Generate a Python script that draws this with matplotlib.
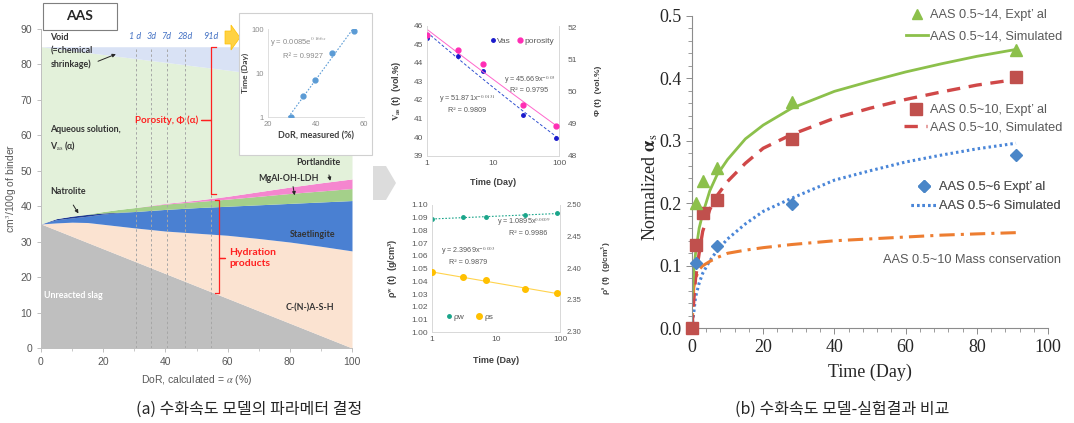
import numpy as np
import matplotlib
matplotlib.use('Agg')
import matplotlib.pyplot as plt
from matplotlib.patches import Rectangle, Polygon
from matplotlib.lines import Line2D
from matplotlib.ticker import MultipleLocator, NullLocator

plt.rcParams['font.family'] = ['Liberation Sans', 'DejaVu Sans']
plt.rcParams['mathtext.fontset'] = 'stix'

# ---------------- data ----------------
# (a) phase assemblage vs calculated DoR (boundary tops, cm3/100 g binder)
dor = [0, 5, 10, 15, 20, 25, 30, 40, 50, 60, 70, 80, 90, 100]
slag_top = [35, 33.25, 31.5, 29.75, 28, 26.25, 24.5, 21, 17.5, 14, 10.5, 7, 3.5, 0]
cash_top = [35, 35.3, 35.5, 35.4, 34.9, 34.4, 33.9, 33.0, 32.4, 31.8, 30.9, 29.9, 28.7, 27.4]
staet_top = [35, 36.2, 36.7, 37.2, 37.8, 38.2, 38.5, 39.1, 39.6, 40.0, 40.4, 40.8, 41.2, 41.6]
natro_top = [35, 36.5, 37.2, 37.7, 38.1, 38.3, 38.5, 39.1, 39.6, 40.0, 40.4, 40.8, 41.2, 41.6]
ldh_top = [35, 36.5, 37.2, 37.8, 38.5, 39.1, 39.6, 40.6, 41.3, 42.0, 42.8, 43.6, 44.3, 45.0]
port_top = [35, 36.5, 37.2, 37.8, 38.5, 39.1, 39.6, 40.8, 41.7, 42.8, 44.1, 45.4, 46.6, 47.7]
aq_top = [85, 84.45, 83.9, 83.35, 82.8, 82.25, 81.7, 80.6, 79.5, 78.4, 77.3, 76.2, 75.1, 74.0]
void_top = [85] * 14

day_labels = ['1 d', '3d', '7d', '28d', '91d']
day_dor = [30.4, 35.4, 40.4, 46.4, 54.6]

# inset: time vs measured DoR
inset_dor = [29.5, 34.5, 39.6, 46.7, 55.8]
inset_time = [1, 3, 7, 28, 91]

# middle panels
time_days = [1, 3, 7, 28, 91]
vas = [45.32, 44.39, 43.56, 41.2, 39.98]
porosity = [51.78, 51.3, 50.86, 49.57, 48.9]
rho_w = [1.0890, 1.0903, 1.0906, 1.0921, 1.0934]
rho_s = [2.394, 2.386, 2.381, 2.367, 2.361]

# (b) normalized alpha_s
sim_t = [0, 0.5, 1, 2, 3, 5, 7, 10, 15, 20, 28, 40, 50, 60, 70, 80, 91]
sim_14 = [0.05, 0.09, 0.12, 0.16, 0.183, 0.22, 0.245, 0.27, 0.303, 0.325, 0.352, 0.379, 0.395, 0.41, 0.423, 0.435, 0.446]
sim_10 = [0.0, 0.045, 0.08, 0.12, 0.155, 0.19, 0.212, 0.235, 0.264, 0.288, 0.31, 0.336, 0.352, 0.366, 0.378, 0.389, 0.398]
sim_6 = [0.0, 0.025, 0.05, 0.072, 0.088, 0.108, 0.124, 0.143, 0.167, 0.187, 0.208, 0.237, 0.252, 0.266, 0.277, 0.287, 0.296]
mass_cons = [0.0, 0.065, 0.08, 0.094, 0.1, 0.107, 0.113, 0.12, 0.125, 0.129, 0.134, 0.14, 0.143, 0.146, 0.149, 0.151, 0.153]
exp14_t = [1, 3, 7, 28, 91]
exp14 = [0.2, 0.235, 0.256, 0.362, 0.445]
exp10_t = [0, 1, 3, 7, 28, 91]
exp10 = [0.0, 0.133, 0.185, 0.205, 0.303, 0.402]
exp6_t = [0, 1, 7, 28, 91]
exp6 = [0.0, 0.105, 0.132, 0.199, 0.277]

# ---------------- figure helpers ----------------
W, H = 1074, 423
fig = plt.figure(figsize=(W / 100, H / 100), dpi=100)
fig.patch.set_facecolor('white')


def fx(px):
    return px / W


def fy(py):
    return 1 - py / H


def rect(l, t, r, b):
    return [fx(l), fy(b), fx(r) - fx(l), fy(t) - fy(b)]


GRAY = '#595959'
LBL = ['Lato', 'DejaVu Sans']

# ---------------- (a) left panel ----------------
ax = fig.add_axes(rect(41, 29, 352, 348))
bounds = [np.zeros(len(dor)), slag_top, cash_top, staet_top, natro_top, ldh_top, port_top, aq_top, void_top]
cols = ['#bfbfbf', '#fbe3d1', '#4a80d2', '#1f3a93', '#a4d08a', '#f586cf', '#e3f1da', '#d9e2f5']
for i, c in enumerate(cols):
    ax.fill_between(dor, bounds[i], bounds[i + 1], color=c, lw=0)
ax.vlines(day_dor, 0, 85, colors='#a6a6a6', linestyles=(0, (2.5, 2.5)), lw=0.7)
for lab, d in zip(day_labels, day_dor):
    ax.text(d, 87.9, lab, ha='center', va='center', color='#4472c4', fontsize=6.5,
            fontstyle='italic', family=LBL)
ax.set_xlim(0, 100)
ax.set_ylim(0, 90)
ax.xaxis.set_major_locator(MultipleLocator(20))
ax.xaxis.set_minor_locator(MultipleLocator(10))
ax.yaxis.set_major_locator(MultipleLocator(10))
for s in ['top', 'right']:
    ax.spines[s].set_visible(False)
for s in ['left', 'bottom']:
    ax.spines[s].set_color('#bfbfbf')
    ax.spines[s].set_linewidth(0.7)
ax.tick_params(colors='#bfbfbf', labelcolor=GRAY, labelsize=7.5, length=3, width=0.7)
ax.tick_params(which='minor', colors='#bfbfbf', length=2)
ax.set_xlabel('DoR, calculated = $\\alpha$ (%)', fontsize=7.5, color=GRAY)
ax.set_ylabel('cm$^3$/100g of binder', fontsize=7.5, color=GRAY)
ax.xaxis.set_label_coords(0.5, -0.1)
ax.xaxis.label.set_va('center')
ax.yaxis.set_label_coords(-0.095, 0.5)
ax.yaxis.label.set_va('center')

# braces
def brace(x, y0, y1, ymid, hook, nub):
    ax.plot([x + hook, x, x, x + nub, x, x, x + hook], [y1, y1, ymid, ymid, ymid, y0, y0],
            color='#ff2020', lw=0.9, solid_joinstyle='round')

brace(54.8, 43.5, 85, 64.2, 1.4, -3.5)
ax.text(50.5, 64.2, 'Porosity, Φ (α)', color='#ff2020', fontsize=7, fontweight='bold',
        ha='right', va='center', family=LBL)
brace(57.2, 15.5, 41.8, 25.4, -1.4, 2.0)
ax.text(60.5, 25.4, 'Hydration\nproducts', color='#ff2020', fontsize=7.5, fontweight='bold',
        ha='left', va='center', family=LBL, linespacing=1.25)

tk = dict(fontsize=6.4, fontweight='bold', color='#333333', family=LBL)
ax.text(3, 88.8, 'Void\n(=chemical\nshrinkage)', va='top', ha='left', linespacing=1.55, **tk)
ax.text(3, 59, 'Aqueous solution,\nV$_{\\mathrm{as}}$ (α)', va='center', ha='left', linespacing=1.6, **tk)
ax.text(3, 44.2, 'Natrolite', va='center', ha='left', **tk)
ax.text(82, 52.3, 'Portlandite', va='center', ha='left', **tk)
ax.text(69.8, 47.9, 'MgAl-OH-LDH', va='center', ha='left', **tk)
ax.text(80, 31.9, 'Staetlingite', va='center', ha='left', **tk)
ax.text(78.5, 11.2, 'C-(N-)A-S-H', va='center', ha='left', **tk)
ax.text(1, 14.7, 'Unreacted slag', va='center', ha='left', fontsize=6.4, fontweight='bold',
        color='white', family=LBL)
ap = dict(arrowstyle='-|>', color='#262626', lw=0.7, mutation_scale=5)
ax.annotate('', xy=(24.9, 83.2), xytext=(17.5, 80.6), arrowprops=ap)
ax.annotate('', xy=(12.5, 37.3), xytext=(9.9, 41.0), arrowprops=ap)
ax.annotate('', xy=(93.2, 46.4), xytext=(92.4, 49.6), arrowprops=ap)
ax.annotate('', xy=(81.7, 42.3), xytext=(80.9, 46.3), arrowprops=ap)

# AAS box
fig.add_artist(Rectangle((fx(43), fy(30)), fx(117) - fx(43), fy(3) - fy(30), transform=fig.transFigure,
                         facecolor='white', edgecolor='#7f7f7f', lw=0.8, zorder=2))
fig.text(fx(80), fy(16.5), 'AAS', ha='center', va='center', fontsize=10, fontweight='bold',
         family=LBL, color='#262626', zorder=3)

# yellow arrow
fig.add_artist(Polygon([(fx(225), fy(31)), (fx(231), fy(31)), (fx(231), fy(25)), (fx(240), fy(37.5)),
                        (fx(231), fy(50)), (fx(231), fy(44)), (fx(225), fy(44))], closed=True,
                       transform=fig.transFigure, facecolor='#ffd243', edgecolor='#ffc000', lw=0.5, zorder=2))

# inset
fig.add_artist(Rectangle((fx(239), fy(155)), fx(372) - fx(239), fy(13) - fy(155), transform=fig.transFigure,
                         facecolor='white', edgecolor='#d0d0d0', lw=0.8, zorder=2))
axi = fig.add_axes(rect(268, 29, 364, 117))
axi.set_zorder(3)
axi.set_yscale('log')
axi.plot(inset_dor, inset_time, 'o', color='#5b9bd5', ms=3.5, zorder=3)
b_e, a_e = np.polyfit(inset_dor, np.log(inset_time), 1)
xx = np.linspace(min(inset_dor) - 1.0, max(inset_dor) + 1.2, 50)
axi.plot(xx, np.exp(a_e + b_e * xx), ls=(0, (1.5, 1.5)), color='#5b9bd5', lw=0.8)
axi.set_xlim(20, 60)
axi.set_ylim(1, 100)
axi.set_xticks([20, 40, 60])
axi.set_yticks([1, 10, 100])
axi.set_yticklabels(['1', '10', '100'])
axi.yaxis.set_minor_locator(NullLocator())
axi.tick_params(length=0, labelsize=5.5, labelcolor='#8c8c8c', pad=3)
for s in ['top', 'right']:
    axi.spines[s].set_visible(False)
for s in ['left', 'bottom']:
    axi.spines[s].set_color('#d9d9d9')
    axi.spines[s].set_linewidth(0.6)
axi.set_xlabel('DoR, measured (%)', fontsize=6.5, fontweight='bold', family=LBL, color='#404040', labelpad=2)
axi.set_ylabel('Time (Day)', fontsize=6, fontweight='bold', family=LBL, color='#404040', labelpad=2)
fig.text(fx(270), fy(42), 'y = 0.0085e$^{0.166x}$', fontsize=5.5, color='#8c8c8c', va='center', zorder=4)
fig.text(fx(283), fy(57), 'R² = 0.9927', fontsize=5.5, color='#8c8c8c', va='center', zorder=4)

# grey arrow between panels
fig.add_artist(Polygon([(fx(373), fy(166)), (fx(386), fy(166)), (fx(396), fy(183)), (fx(386), fy(200)),
                        (fx(373), fy(200))], closed=True, transform=fig.transFigure,
                       facecolor='#dcdcdc', edgecolor='none', zorder=2))


def power_fit(t, y):
    b, a = np.polyfit(np.log(t), np.log(y), 1)
    tt = np.geomspace(1, 100, 60)
    return tt, np.exp(a) * tt ** b


def style_mid(a):
    for s in ['top']:
        a.spines[s].set_visible(False)
    for s in ['left', 'bottom', 'right']:
        a.spines[s].set_color('#d9d9d9')
        a.spines[s].set_linewidth(0.6)
    a.tick_params(length=0, labelsize=6, labelcolor=GRAY, pad=3)


# middle top
am = fig.add_axes(rect(427, 25.7, 559, 155.7))
am.set_xscale('log')
amr = am.twinx()
am.plot(time_days, vas, 'o', color='#1a1acc', ms=2.5, zorder=3)
tt, yy = power_fit(time_days, vas)
am.plot(tt, yy, ls=(0, (3, 2)), color='#3050d0', lw=0.7)
amr.plot(time_days, porosity, 'o', color='#ff2db4', ms=3.5, zorder=3)
tt, yy = power_fit(time_days, porosity)
amr.plot(tt, yy, ls='-', color='#ff66cc', lw=0.7)
am.set_xlim(1, 100)
am.set_ylim(39, 46)
amr.set_ylim(47.98, 52.07)
am.set_xticks([1, 10, 100])
am.set_xticklabels(['1', '10', '100'])
am.xaxis.set_minor_locator(NullLocator())
am.yaxis.set_major_locator(MultipleLocator(1))
amr.yaxis.set_major_locator(MultipleLocator(1))
style_mid(am)
style_mid(amr)
amr.tick_params(pad=6)
amr.spines['top'].set_visible(False)
am.set_xlabel('Time (Day)', fontsize=6.5, fontweight='bold', color='#404040')
am.xaxis.set_label_coords(0.5, -0.17)
am.set_ylabel('$\\mathbf{V_{as}}$ (t)  (vol.%)', fontsize=6.5, fontweight='bold', color='#404040')
am.yaxis.set_label_coords(-0.18, 0.5)
amr.set_ylabel('Φ (t)  (vol.%)', fontsize=6, fontweight='bold', color='#404040', rotation=90)
amr.yaxis.set_label_coords(1.27, 0.5)
lh = [Line2D([], [], ls='none', marker='o', color='#1a1acc', ms=2.5),
      Line2D([], [], ls='none', marker='o', color='#ff2db4', ms=3.5)]
amr.legend(lh, ['Vas', 'porosity'], loc='upper right', bbox_to_anchor=(fx(558), fy(33)),
           bbox_transform=fig.transFigure, frameon=False, fontsize=6, ncol=2, handlelength=0.6,
           handletextpad=0.2, columnspacing=0.8, borderpad=0, labelcolor=GRAY)
eq = dict(fontsize=5.2, color=GRAY, ha='center', va='center')
fig.text(fx(530), fy(80), 'y = 45.669x$^{-0.03}$', **eq)
fig.text(fx(529), fy(91), 'R² = 0.9795', **eq)
fig.text(fx(467), fy(99), 'y = 51.871x$^{-0.0131}$', **eq)
fig.text(fx(467), fy(110), 'R² = 0.9809', **eq)

# middle bottom
ab = fig.add_axes(rect(432, 205, 560, 332.3))
ab.set_xscale('log')
abr = ab.twinx()
ab.plot(time_days, rho_w, 'o', color='#1aa58a', ms=2.5, zorder=3)
tt, yy = power_fit(time_days, rho_w)
ab.plot(tt, yy, ls=(0, (1.5, 1.5)), color='#1aa58a', lw=0.8)
abr.plot(time_days, rho_s, 'o', color='#ffc000', ms=4, zorder=3)
tt, yy = power_fit(time_days, rho_s)
abr.plot(tt, yy, ls='-', color='#ffd34d', lw=0.8)
ab.set_xlim(1, 100)
ab.set_ylim(1.00, 1.10)
abr.set_ylim(2.299, 2.50)
ab.set_xticks([1, 10, 100])
ab.set_xticklabels(['1', '10', '100'])
ab.xaxis.set_minor_locator(NullLocator())
ab.yaxis.set_major_locator(MultipleLocator(0.01))
abr.yaxis.set_major_locator(MultipleLocator(0.05))
ab.yaxis.set_major_formatter(plt.FormatStrFormatter('%.2f'))
abr.yaxis.set_major_formatter(plt.FormatStrFormatter('%.2f'))
style_mid(ab)
style_mid(abr)
abr.tick_params(labelsize=5.5, pad=5)
ab.set_xlabel('Time (Day)', fontsize=6.5, fontweight='bold', color='#404040')
ab.xaxis.set_label_coords(0.5, -0.19)
ab.set_ylabel('ρ$^{\\mathbf{w}}$ (t)  (g/cm$^{\\mathbf{3}}$)', fontsize=6.5, fontweight='bold', color='#404040')
ab.yaxis.set_label_coords(-0.25, 0.5)
abr.set_ylabel('ρ$^{\\mathbf{s}}$ (t)  (g/cm$^{\\mathbf{3}}$)', fontsize=6, fontweight='bold', color='#404040', rotation=90)
abr.yaxis.set_label_coords(1.31, 0.5)
lh = [Line2D([], [], ls='none', marker='o', color='#1aa58a', ms=2.5),
      Line2D([], [], ls='none', marker='o', color='#ffc000', ms=4)]
abr.legend(lh, ['ρw', 'ρs'], loc='lower left', bbox_to_anchor=(fx(442), fy(325)),
           bbox_transform=fig.transFigure, frameon=False, fontsize=6, ncol=2, handlelength=0.6,
           handletextpad=0.3, columnspacing=1.5, borderpad=0, labelcolor=GRAY)
fig.text(fx(524), fy(222), 'y = 1.0895x$^{0.0009}$', **eq)
fig.text(fx(528), fy(233), 'R² = 0.9986', **eq)
fig.text(fx(468), fy(251), 'y = 2.3969x$^{-0.003}$', **eq)
fig.text(fx(468), fy(262), 'R² = 0.9879', **eq)

# ---------------- (b) right panel ----------------
axr = fig.add_axes(rect(692, 15.7, 1048, 328.3))
c_g, c_r, c_b, c_o = '#8cc04b', '#c0504d', '#4a86c8', '#ed7d31'
axr.plot(sim_t, sim_6, ls=(0, (0.8, 1.0)), color='#4a86d8', lw=2.2)
axr.plot(sim_t, mass_cons, ls=(0, (5, 2, 1, 2)), color=c_o, lw=2.2)
axr.plot(sim_t, sim_10, ls=(0, (4, 2.6)), color='#d04848', lw=2.4)
axr.plot(sim_t, sim_14, ls='-', color=c_g, lw=2.0)
axr.plot(exp6_t, exp6, ls='none', marker='D', color=c_b, ms=6, clip_on=False, zorder=4)
axr.plot(exp10_t, exp10, ls='none', marker='s', color=c_r, ms=8, clip_on=False, zorder=4)
axr.plot(exp14_t, exp14, ls='none', marker='^', color=c_g, ms=8, clip_on=False, zorder=4)
axr.set_xlim(0, 100)
axr.set_ylim(0, 0.5)
axr.xaxis.set_major_locator(MultipleLocator(20))
axr.xaxis.set_minor_locator(MultipleLocator(4))
axr.yaxis.set_major_locator(MultipleLocator(0.1))
axr.yaxis.set_minor_locator(MultipleLocator(0.02))
axr.yaxis.set_major_formatter(plt.FormatStrFormatter('%.1f'))
for s in ['top', 'right']:
    axr.spines[s].set_visible(False)
for s in ['left', 'bottom']:
    axr.spines[s].set_color('#8c8c8c')
    axr.spines[s].set_linewidth(0.8)
serif = ['Liberation Serif', 'DejaVu Serif']
axr.tick_params(colors='#8c8c8c', labelcolor='#262626', labelsize=13, length=4, width=0.7)
axr.tick_params(which='minor', colors='#8c8c8c', length=3, width=0.6)
for lab in axr.get_xticklabels() + axr.get_yticklabels():
    lab.set_family(serif)
axr.set_xlabel('Time (Day)', fontsize=13, family=serif, color='#262626')
axr.xaxis.set_label_coords(0.5, -0.14)
axr.xaxis.label.set_va('center')
axr.set_ylabel('Normalized $\\mathbf{\\alpha}_{\\mathrm{s}}$', fontsize=13, family=serif, color='#262626')
axr.yaxis.set_label_coords(-0.118, 0.45)
axr.yaxis.label.set_va('center')

lg = dict(loc='upper left', bbox_transform=fig.transFigure, frameon=False, fontsize=9.2,
          labelcolor=GRAY, borderpad=0, borderaxespad=0, handletextpad=0.2)
l1 = axr.legend([Line2D([], [], ls='none', marker='^', color=c_g, ms=7),
                 Line2D([], [], color=c_g, lw=2.0)],
                ['AAS 0.5~14, Expt’ al', 'AAS 0.5~14, Simulated'],
                bbox_to_anchor=(fx(906), fy(9.0)), handlelength=1.7, labelspacing=0.75, **lg)
axr.add_artist(l1)
l2 = axr.legend([Line2D([], [], ls='none', marker='s', color=c_r, ms=8),
                 Line2D([], [], color='#d04848', lw=2.4, ls=(0, (4, 2.6)))],
                ['AAS 0.5~10, Expt’ al', 'AAS 0.5~10, Simulated'],
                bbox_to_anchor=(fx(904), fy(104.0)), handlelength=1.8, labelspacing=0.4, **lg)
axr.add_artist(l2)
l3 = axr.legend([Line2D([], [], ls='none', marker='D', color=c_b, ms=6),
                 Line2D([], [], color='#4a86d8', lw=2.2, ls=(0, (0.8, 1.0)))],
                ['AAS 0.5~6 Expt’ al', 'AAS 0.5~6 Simulated'],
                bbox_to_anchor=(fx(911), fy(181.0)), handlelength=2.0, labelspacing=0.55, **lg)
axr.add_artist(l3)
fig.text(fx(883), fy(260), 'AAS 0.5~10 Mass conservation', va='center', ha='left', fontsize=9.2, color=GRAY)

# captions
cap = dict(ha='center', va='center', fontsize=11.5, color='#262626',
           family=['Noto Sans CJK KR', 'DejaVu Sans'])
fig.text(fx(249), fy(409), '(a) 수화속도 모델의 파라메터 결정', **cap)
fig.text(fx(842), fy(409), '(b) 수화속도 모델-실험결과 비교', **cap)

fig.savefig('out.png', dpi=100, facecolor='white')
